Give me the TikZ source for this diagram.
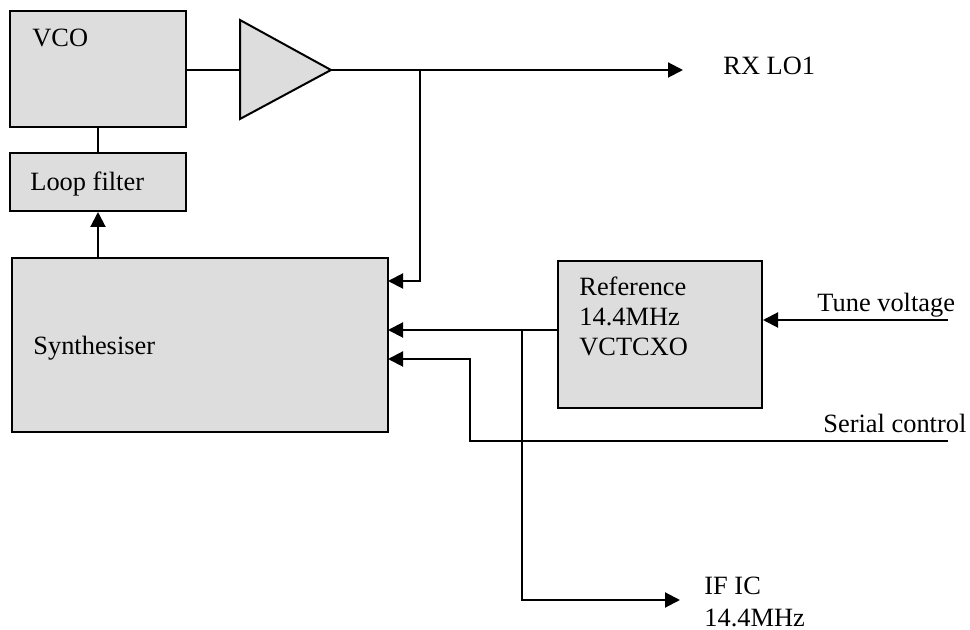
\documentclass[tikz,border=0pt]{standalone}
\usepackage{fontspec}
\setmainfont{Liberation Serif}
\usetikzlibrary{arrows.meta}
\definecolor{boxgray}{RGB}{221,221,221}
\begin{document}
\begin{tikzpicture}[x=0.5pt,y=-0.5pt,
  blk/.style={draw=black,fill=boxgray,line width=1pt,inner sep=0pt},
  lbl/.style={anchor=base west,inner sep=0pt,font=\fontsize{13.2}{15}\selectfont},
  wire/.style={line width=1pt},
  arr/.style={line width=1pt,-{Triangle[length=7.5pt,width=7.5pt]}}]
\useasboundingbox (0,0) rectangle (970,630);
% boxes
\node[blk,minimum width=88pt,minimum height=58pt] (vco) at (98,69) {};
\node[blk,minimum width=88pt,minimum height=29pt] (loop) at (98,182) {};
\node[blk,minimum width=188pt,minimum height=87pt] (synth) at (200,345) {};
\node[blk,minimum width=102pt,minimum height=73.5pt] (ref) at (660,334.5) {};
% amplifier
\draw[blk] (240,20) -- (331,70) -- (240,119) -- cycle;
\coordinate (ampin) at (240,70);
\coordinate (ampout) at (331,70);
% texts
\node[lbl] (tvco) at (32,47) {VCO};
\node[lbl] (tloop) at (30,191) {Loop filter};
\node[lbl] (tsyn) at (33,355) {Synthesiser};
\node[lbl] (tref1) at (579,296) {Reference};
\node[lbl] (tref2) at (579,326) {14.4MHz};
\node[lbl] (tref3) at (579,356) {VCTCXO};
\node[lbl] (trx) at (723,75) {RX LO1};
\node[lbl] (ttune) at (817,312) {Tune voltage};
\node[lbl] (tser) at (823,433) {Serial control};
\node[lbl] (tif1) at (704,595) {IF IC};
\node[lbl] (tif2) at (704,626) {14.4MHz};
% coordinates
\coordinate (rxlo) at (683,70);
\coordinate (br1) at (420,70);
\coordinate (s1) at (388,281);
\coordinate (s2) at (388,330);
\coordinate (s3) at (388,359);
\coordinate (br2) at (522,330);
\coordinate (ific) at (680,600);
\coordinate (tv) at (948,320);
\coordinate (sc) at (948,441);
\coordinate (sb) at (470,359);
% connectors
\draw[wire] (vco.east |- ampin) -- (ampin);
\draw[arr] (ampout) -- (rxlo);
\draw[arr] (br1) |- (s1);
\draw[wire] (vco.south) -- (loop.north);
\draw[arr] (synth.north -| loop.south) -- (loop.south);
\draw[arr] (ref.west |- s2) -- (s2);
\draw[arr] (br2) |- (ific);
\draw[arr] (tv) -- (tv -| ref.east);
\draw[arr] (sc) -| (sb) -- (s3);
\end{tikzpicture}
\end{document}
